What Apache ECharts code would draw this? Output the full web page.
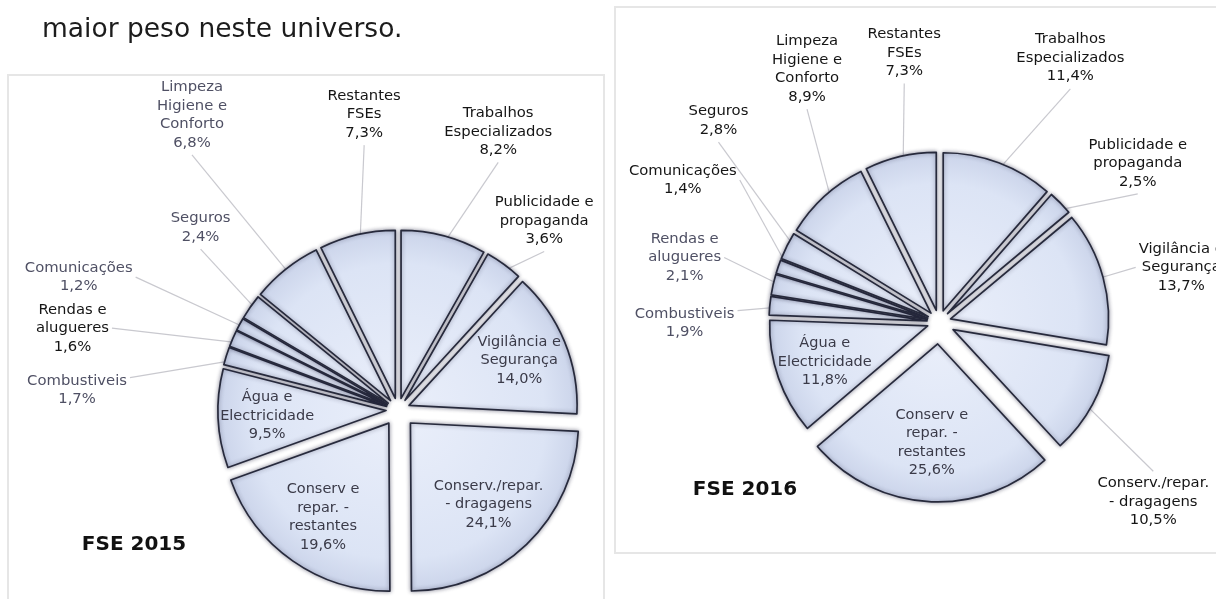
<!DOCTYPE html>
<html>
<head>
<meta charset="utf-8">
<script src="https://cdn.jsdelivr.net/npm/echarts@6/dist/echarts.min.js"></script>
<style>
html,body{margin:0;padding:0;background:#ffffff;}
#c{width:1216px;height:599px;}
</style>
</head>
<body>
<div id="c"></div>
<script>
// ---------------- data ----------------
const categories = [
  'Trabalhos\nEspecializados',
  'Publicidade e\npropaganda',
  'Vigilância e\nSegurança',
  'Conserv./repar.\n- dragagens',
  'Conserv e\nrepar. -\nrestantes',
  'Água e\nElectricidade',
  'Combustiveis',
  'Rendas e\nalugueres',
  'Comunicações',
  'Seguros',
  'Limpeza\nHigiene e\nConforto',
  'Restantes\nFSEs'
];
const values2015 = [8.2, 3.6, 14.0, 24.1, 19.6, 9.5, 1.7, 1.6, 1.2, 2.4, 6.8, 7.3];
const values2016 = [11.4, 2.5, 13.7, 10.5, 25.6, 11.8, 1.9, 2.1, 1.4, 2.8, 8.9, 7.3];
const chartTitles = ['FSE 2015', 'FSE 2016'];
const headingText = 'maior peso neste universo.';

// ---------------- style / layout config ----------------
const FONT = '"DejaVu Sans", Verdana, sans-serif';
const BLACK = '#151515', GREY = '#4f5064', INNER = '#3a3a48';
const cfg2015 = {
  center: [398, 410], radius: 168, innerLabelRadius: 256,
  offsets: [12, 12, 12, 18, 16, 12, 12, 12, 12, 12, 12, 12],
  place:   ['T', 'T', 'I', 'I', 'I', 'I', 'SB', 'S', 'S', 'T', 'T', 'T'],
  len:     [88, 28, 0, 0, 0, 0, -60, 38, 111, 113, 158, 104],
  len2:    [35, 31, 0, 0, 0, 0, 165, 97, 17, -33, 3, -28],
  colors:  [BLACK, BLACK, INNER, INNER, INNER, INNER, GREY, BLACK, GREY, GREY, GREY, BLACK]
};
const cfg2016 = {
  center: [939, 322], radius: 158, innerLabelRadius: 236,
  offsets: [12, 12, 12, 16, 22, 12, 12, 12, 12, 12, 12, 12],
  place:   ['T', 'T', 'S', 'B', 'I', 'I', 'SB', 'S', 'S', 'T', 'T', 'T'],
  len:     [91, 25, 50, 156, 0, 0, -40, 135, 278, 244, 130, 87],
  len2:    [44, 68, -4, -62, 0, 0, 84, -71, -213, -139, -62, -21],
  colors:  [BLACK, BLACK, BLACK, BLACK, INNER, INNER, GREY, GREY, BLACK, BLACK, BLACK, BLACK]
};

function sliceStyleFor(cfg) {
  return {
    color: {
      type: 'radial', x: cfg.center[0], y: cfg.center[1], r: cfg.radius, global: true,
      colorStops: [
        { offset: 0, color: '#e9eefa' },
        { offset: 0.8, color: '#dce4f5' },
        { offset: 1, color: '#cbd4ea' }
      ]
    },
    borderColor: '#272a3c',
    borderWidth: 1.7,
    shadowBlur: 4,
    shadowColor: 'rgba(30,30,60,0.45)'
  };
}
const hiddenStyle = { color: 'rgba(0,0,0,0)', borderWidth: 0, shadowBlur: 0 };

function fmtPct(v) { return v.toFixed(1).replace('.', ',') + '%'; }

function makeLabelLayout(cfg) {
  return function (params) {
    const i = params.dataIndex;
    const mode = cfg.place[i];
    const pts = params.labelLinePoints;
    if (mode === 'I' || !pts || pts.length < 2) { return {}; }
    const p1 = pts[0], p3 = pts[pts.length - 1];
    const w = params.labelRect.width, h = params.labelRect.height;
    const goesLeft = p1[0] < cfg.center[0];
    const gap = 3;
    let x = p3[0], y = p3[1];
    if (mode === 'T') { y = p3[1] - gap - h / 2; }
    else if (mode === 'B') { y = p3[1] + gap + h / 2; }
    else if (mode === 'S') { x = p3[0] + (goesLeft ? -1 : 1) * (gap + w / 2); }
    else if (mode === 'SB') { x = p3[0] + (goesLeft ? -1 : 1) * (gap + w / 2); y = p3[1] + h / 2 - 6; }
    return { x: x, y: y, align: 'center', verticalAlign: 'middle', labelLinePoints: [p1, p3] };
  };
}

function buildPie(values, cfg, key) {
  const series = [];
  const sliceStyle = sliceStyleFor(cfg);
  const tiers = Array.from(new Set(cfg.offsets));
  tiers.forEach(function (off) {
    series.push({
      type: 'pie', id: key + '-slices-' + off,
      center: cfg.center, radius: cfg.radius,
      startAngle: 90, clockwise: true,
      selectedMode: 'multiple', selectedOffset: off,
      silent: true, animation: false,
      emphasis: { disabled: true },
      label: { show: false }, labelLine: { show: false },
      data: values.map(function (v, i) {
        return {
          name: categories[i], value: v, selected: true,
          itemStyle: cfg.offsets[i] === off ? sliceStyle : hiddenStyle
        };
      })
    });
  });
  // outside labels
  series.push({
    type: 'pie', id: key + '-outer-labels',
    center: cfg.center, radius: cfg.radius,
    startAngle: 90, clockwise: true,
    silent: true, animation: false, avoidLabelOverlap: false,
    emphasis: { disabled: true },
    itemStyle: hiddenStyle,
    label: {
      show: true, position: 'outside', alignTo: 'none',
      fontFamily: FONT, fontSize: 14.8, lineHeight: 18.5,
      formatter: function (p) { return p.name + '\n' + fmtPct(p.value); }
    },
    labelLine: {
      show: true, minTurnAngle: 0, maxSurfaceAngle: 180,
      lineStyle: { color: '#c9c9cf', width: 1.2 }
    },
    labelLayout: makeLabelLayout(cfg),
    data: values.map(function (v, i) {
      const outside = cfg.place[i] !== 'I';
      return {
        name: categories[i], value: v,
        label: { show: outside, color: cfg.colors[i] },
        labelLine: { show: outside, length: cfg.len[i], length2: cfg.len2[i] }
      };
    })
  });
  // inside labels
  series.push({
    type: 'pie', id: key + '-inner-labels',
    center: cfg.center, radius: cfg.innerLabelRadius,
    startAngle: 90, clockwise: true,
    silent: true, animation: false, avoidLabelOverlap: false,
    emphasis: { disabled: true },
    itemStyle: hiddenStyle,
    label: {
      show: true, position: 'inside',
      fontFamily: FONT, fontSize: 14.5, lineHeight: 18.5, align: 'center',
      formatter: function (p) { return p.name + '\n' + fmtPct(p.value); }
    },
    labelLine: { show: false },
    data: values.map(function (v, i) {
      const inside = cfg.place[i] === 'I';
      return { name: categories[i], value: v, label: { show: inside, color: cfg.colors[i] } };
    })
  });
  return series;
}

const chart = echarts.init(document.getElementById('c'), null, { renderer: 'canvas' });
chart.setOption({
  backgroundColor: '#ffffff',
  animation: false,
  graphic: [
    { type: 'rect', silent: true, z: -10, shape: { x: 8, y: 75, width: 596, height: 560 },
      style: { fill: 'none', stroke: '#e6e6e6', lineWidth: 2 } },
    { type: 'rect', silent: true, z: -10, shape: { x: 615, y: 7, width: 640, height: 546 },
      style: { fill: 'none', stroke: '#e6e6e6', lineWidth: 2 } },
    { type: 'text', left: 42, top: 17, silent: true,
      style: { text: headingText, font: '26.5px "DejaVu Sans"', fill: '#1c1c1c' } },
    { type: 'text', x: 134, y: 545, silent: true,
      style: { text: chartTitles[0], font: 'bold 20px "DejaVu Sans"', fill: '#111', align: 'center', verticalAlign: 'middle' } },
    { type: 'text', x: 745, y: 490, silent: true,
      style: { text: chartTitles[1], font: 'bold 20px "DejaVu Sans"', fill: '#111', align: 'center', verticalAlign: 'middle' } }
  ],
  series: buildPie(values2015, cfg2015, 'p2015').concat(buildPie(values2016, cfg2016, 'p2016'))
});
</script>
</body>
</html>
